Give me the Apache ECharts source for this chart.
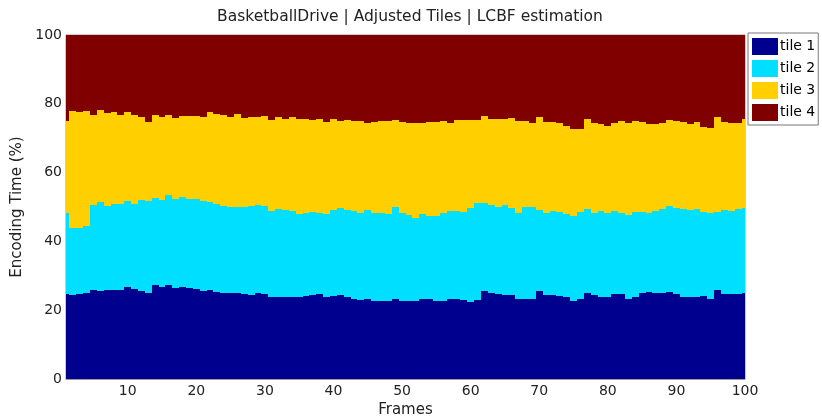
<!DOCTYPE html>
<html>
<head>
<meta charset="utf-8">
<script src="https://cdn.jsdelivr.net/npm/echarts@6/dist/echarts.min.js"></script>
<style>html,body{margin:0;padding:0;background:#fff}#c{width:822px;height:420px}</style>
</head>
<body>
<div id="c"></div>
<script>
var frames = [1,2,3,4,5,6,7,8,9,10,11,12,13,14,15,16,17,18,19,20,21,22,23,24,25,26,27,28,29,30,31,32,33,34,35,36,37,38,39,40,41,42,43,44,45,46,47,48,49,50,51,52,53,54,55,56,57,58,59,60,61,62,63,64,65,66,67,68,69,70,71,72,73,74,75,76,77,78,79,80,81,82,83,84,85,86,87,88,89,90,91,92,93,94,95,96,97,98,99,100];
var xTicks = [10,20,30,40,50,60,70,80,90,100];
var seriesNames = ['tile 1','tile 2','tile 3','tile 4'];
var tile1 = [24.6,24.4,24.7,25.1,25.8,25.5,25.8,26.0,26.0,26.6,26.2,25.5,24.9,27.2,26.8,27.3,26.5,26.6,26.4,26.2,25.7,25.8,25.4,25.1,25.1,24.9,24.6,24.4,24.9,24.6,23.7,23.9,23.9,23.7,23.9,24.1,24.3,24.6,23.7,24.1,24.3,23.7,23.4,23.0,23.4,22.8,22.8,22.6,23.3,22.8,22.8,22.8,23.2,23.4,22.8,22.8,23.2,23.2,23.0,22.5,23.0,25.6,25.1,24.7,24.4,24.4,23.3,23.4,23.4,25.6,24.4,24.4,24.1,23.9,22.8,23.3,25.1,24.4,23.9,23.9,24.6,24.6,23.2,23.9,24.9,25.2,24.9,25.1,25.2,24.7,23.9,23.9,23.9,24.1,23.4,26.0,24.7,24.6,24.6,24.9];
var tile2 = [23.7,19.6,19.3,19.4,24.8,26.0,24.5,24.8,25.0,25.1,24.8,26.5,26.7,25.5,25.2,26.1,25.8,26.2,25.8,26.1,26.1,25.6,25.4,25.2,24.8,25.0,25.3,25.9,25.6,25.7,25.2,25.5,25.2,25.1,24.1,24.3,24.3,23.8,24.3,25.0,25.3,25.4,25.4,25.4,25.8,25.6,25.6,25.5,26.7,25.6,24.9,24.1,24.8,24.0,24.6,25.4,25.5,25.5,25.5,27.1,28.1,25.7,25.5,25.2,26.2,25.2,25.1,26.5,26.5,23.5,23.8,24.3,24.4,24.2,24.7,25.2,24.2,24.0,24.8,24.5,24.2,23.8,24.5,24.6,23.7,23.2,23.9,24.2,25.1,24.9,25.6,25.2,25.5,24.4,25.0,22.6,24.4,24.3,24.7,24.7];
var tile3 = [26.8,34.0,33.7,33.4,26.1,26.6,26.9,26.8,25.7,26.0,25.8,24.2,23.1,24.1,24.2,23.4,23.5,23.7,24.3,24.2,24.4,26.1,26.2,26.4,26.2,27.0,25.9,25.9,25.7,26.1,26.4,26.8,26.5,27.4,27.5,27.1,26.7,27.2,26.8,26.6,25.5,26.1,26.2,26.6,25.2,26.3,26.6,26.9,25.2,26.4,26.6,27.4,26.3,27.4,27.2,26.8,25.8,26.5,26.7,25.6,24.1,25.2,25.0,25.6,24.9,26.2,26.5,25.2,24.6,27.0,26.5,26.0,25.8,25.4,25.2,24.2,26.2,26.1,25.4,25.1,25.7,26.6,26.6,26.6,26.2,25.7,25.3,25.0,25.0,25.5,25.1,25.1,25.3,24.9,24.5,27.5,25.6,25.6,25.2,25.9];
var tile4 = [24.9,22.0,22.3,22.1,23.3,21.9,22.8,22.4,23.3,22.3,23.2,23.8,25.3,23.2,23.8,23.2,24.2,23.5,23.5,23.5,23.8,22.5,23.0,23.3,23.9,23.1,24.2,23.8,23.8,23.6,24.7,23.8,24.4,23.8,24.5,24.5,24.7,24.4,25.2,24.3,24.9,24.8,25.0,25.0,25.6,25.3,25.0,25.0,24.8,25.2,25.7,25.7,25.7,25.2,25.4,25.0,25.5,24.8,24.8,24.8,24.8,23.5,24.4,24.5,24.5,24.2,25.1,24.9,25.5,23.9,25.3,25.3,25.7,26.5,27.3,27.3,24.5,25.5,25.9,26.5,25.5,25.0,25.7,24.9,25.2,25.9,25.9,25.7,24.7,24.9,25.4,25.8,25.3,26.6,27.1,23.9,25.3,25.5,25.5,24.5];
var colors = ['#00008F','#00DFFF','#FFCF00','#800000'];

var chart = echarts.init(document.getElementById('c'), null, {renderer:'canvas'});
var allTiles = [tile1, tile2, tile3, tile4];
var base = frames.map(function () { return 0; });
var series = allTiles.map(function (vals, i) {
  var data = frames.map(function (f, j) {
    var s = base[j];
    var e = s + vals[j];
    base[j] = e;
    return [f, s, e];
  });
  var col = colors[i];
  return {
    name: seriesNames[i],
    type: 'custom',
    itemStyle: {color: col},
    encode: {x: 0, y: [1, 2]},
    emphasis: {disabled: true},
    renderItem: function (params, api) {
      var x = api.value(0), s = api.value(1), e = api.value(2);
      var p0 = api.coord([x - 0.5, e]);
      var p1 = api.coord([x + 0.5, s]);
      var x0 = Math.round(p0[0]), x1 = Math.round(p1[0]);
      var y0 = Math.round(p0[1]), y1 = Math.round(p1[1]);
      var rect = {x: x0, y: y0, width: x1 - x0, height: y1 - y0};
      var cs = params.coordSys;
      var clipped = echarts.graphic.clipRectByRect(rect, {x: cs.x, y: cs.y, width: cs.width, height: cs.height});
      return clipped && {type: 'rect', shape: clipped, style: {fill: col, stroke: null, lineWidth: 0}};
    },
    data: data
  };
});
var fontFam = '"DejaVu Sans", sans-serif';
chart.setOption({
  animation: false,
  backgroundColor: '#fff',
  title: {
    text: 'BasketballDrive | Adjusted Tiles | LCBF estimation',
    left: 405, textAlign: 'center', top: 4,
    textStyle: {fontFamily: fontFam, fontSize: 15.5, fontWeight: 'normal', color: '#222'}
  },
  legend: {
    orient: 'vertical', left: 748, top: 33,
    icon: 'rect', itemWidth: 26, itemHeight: 17, itemGap: 5,
    borderColor: '#777', borderWidth: 1, padding: [5, 3, 4, 4],
    backgroundColor: '#fff',
    textStyle: {fontFamily: fontFam, fontSize: 14, color: '#000', padding: [0,0,0,-3]},
    data: seriesNames
  },
  grid: {left: 66, right: 77, top: 35, bottom: 41, containLabel: false, outerBoundsMode: 'none',
         show: true, borderColor: '#999', borderWidth: 1, backgroundColor: 'transparent'},
  xAxis: {
    type: 'value', min: 1, max: 100,
    name: 'Frames', nameLocation: 'middle', nameGap: 24,
    nameTextStyle: {fontFamily: fontFam, fontSize: 15, color: '#222'},
    axisLine: {show: true, lineStyle: {color: '#999', width: 1}},
    axisTick: {show: false, customValues: xTicks},
    axisLabel: {customValues: xTicks, fontFamily: fontFam, fontSize: 14, color: '#222', margin: 5},
    splitLine: {show: false}
  },
  yAxis: {
    type: 'value', min: 0, max: 100, interval: 20,
    name: 'Encoding Time (%)', nameLocation: 'middle', nameGap: 36,
    nameTextStyle: {fontFamily: fontFam, fontSize: 15, color: '#222'},
    axisLine: {show: true, lineStyle: {color: '#bbb', width: 1}},
    axisTick: {show: false},
    axisLabel: {fontFamily: fontFam, fontSize: 14, color: '#222', margin: 4},
    splitLine: {show: false}
  },
  series: series
});
</script>
</body>
</html>
